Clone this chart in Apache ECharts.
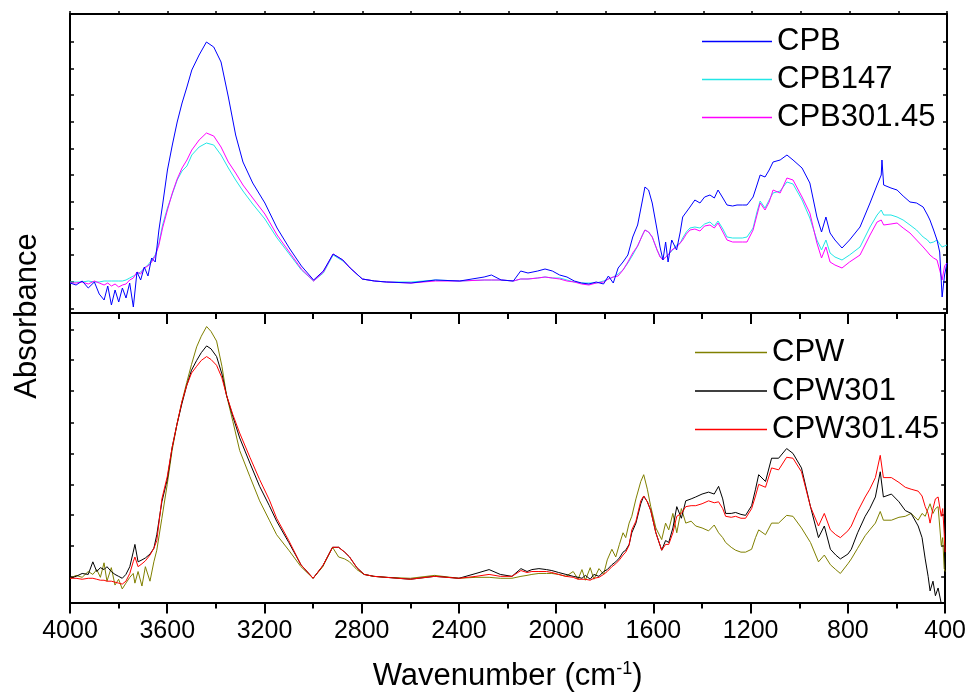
<!DOCTYPE html>
<html>
<head>
<meta charset="utf-8">
<script src="https://cdn.jsdelivr.net/npm/echarts@6/dist/echarts.min.js"></script>
<style>
html,body{margin:0;padding:0;background:#fff}
#chart{width:969px;height:693px}
</style>
</head>
<body>
<div id="chart"></div>
<script>
// wavenumbers (cm-1), top panel
const wTop = [4000,3975,3950,3925,3900,3880,3860,3845,3830,3815,
3800,3785,3770,3755,3740,3725,3710,3695,3680,3665,
3650,3635,3620,3600,3580,3560,3540,3520,3500,3470,
3440,3410,3380,3350,3320,3290,3250,3200,3150,3100,
3050,3000,2960,2920,2880,2850,2800,2750,2700,2600,
2500,2400,2300,2270,2230,2180,2150,2120,2080,2050,
2020,1990,1960,1930,1900,1870,1840,1810,1790,1770,
1750,1730,1710,1690,1670,1650,1640,1625,1610,1590,
1578,1566,1555,1545,1530,1510,1495,1485,1470,1455,
1435,1414,1395,1373,1355,1340,1320,1303,1280,1262,
1240,1221,1196,1180,1167,1147,1130,1114,1085,1057,
1032,995,963,934,915,897,880,860,831,800,
757,716,687,670,667,660,654,630,605,580,
552,525,498,480,470,455,441,430,420,410,
400]

// absorbance, arbitrary units (x100)
const CPB = [30,28,32,25,31,19,13,27,8,23,
11,25,15,30,6,41,33,46,37,55,
51,83,108,143,168,191,210,226,243,258,
271,266,251,216,178,151,130,110,85,65,
47,33,42,59,53,45,34,32,31,30,
33,32,36,38,33,32,42,40,42,44,
42,38,36,32,30,29,31,29,37,30,
45,51,58,76,88,113,126,123,110,83,
66,53,71,51,73,63,81,96,101,106,
113,110,116,118,115,123,115,108,107,108,
108,108,116,128,138,136,143,151,153,158,
153,145,130,96,81,96,80,73,65,73,
86,110,128,138,153,128,126,125,123,117,
111,110,106,98,93,83,73,61,16,38,
50]

const CPB147 = [31,31,31,32,31,31,32,32,32,32,
32,32,33,35,37,39,41,45,48,53,
58,70,88,105,119,133,142,147,158,166,
170,168,158,145,133,122,109,94,75,59,
43,32,40,58,52,45,34,32,31,31,
33,32,33,33,33,32,34,34,35,36,
35,35,33,31,30,30,30,32,34,36,
39,43,50,58,67,78,83,81,76,63,
57,53,56,58,62,68,70,75,81,85,
86,85,89,91,87,92,84,76,75,75,
75,76,85,101,112,105,113,120,122,131,
129,113,95,73,63,73,60,56,53,58,
66,86,98,103,103,98,96,98,96,93,
88,83,76,73,70,71,73,69,66,67,
68]

const CPB30145 = [30,30,31,29,32,30,28,30,27,29,
26,28,29,33,35,41,39,45,47,51,
57,68,85,103,120,134,145,153,163,173,
180,177,166,151,140,128,115,99,78,61,
44,32,41,59,53,45,34,32,31,30,
32,32,33,33,33,32,34,34,35,36,
35,34,32,31,29,28,30,31,34,36,
37,43,51,60,67,78,83,81,76,63,
56,53,56,58,63,66,70,73,79,83,
84,82,87,88,85,90,81,73,71,71,
71,71,83,98,110,103,111,123,120,135,
133,116,100,70,55,66,51,48,45,51,
58,78,91,93,95,88,86,89,90,85,
80,73,66,61,58,55,53,43,33,47,
50]

// bottom panel
const wBot = [4000,3975,3950,3925,3906,3890,3875,3860,3848,3830,
3815,3800,3785,3770,3754,3740,3733,3720,3704,3690,
3671,3655,3643,3622,3600,3580,3560,3540,3520,3500,
3479,3460,3438,3420,3397,3375,3356,3330,3302,3260,
3220,3180,3150,3100,3050,3000,2960,2920,2895,2870,
2850,2820,2790,2750,2700,2600,2500,2400,2330,2276,
2230,2182,2145,2120,2100,2071,2040,2018,1990,1960,
1930,1910,1894,1880,1860,1845,1824,1805,1790,1771,
1755,1740,1725,1714,1700,1689,1672,1652,1640,1625,
1611,1590,1566,1550,1537,1520,1504,1485,1467,1445,
1426,1400,1373,1350,1332,1315,1303,1280,1262,1240,
1221,1196,1180,1167,1139,1114,1085,1052,1026,991,
954,921,897,872,850,831,800,786,760,729,
710,687,667,654,621,590,564,540,511,495,
482,470,462,450,440,429,416,410,404,400]

const CPW = [25,28,26,32,29,34,26,41,22,36,
18,24,14,20,26,30,20,32,17,37,
22,42,54,87,122,157,184,207,227,246,
264,275,285,280,270,244,214,187,157,130,
105,85,70,54,37,25,37,57,47,45,
42,34,29,27,26,25,28,25,26,26,
25,25,27,28,29,30,30,30,29,27,
32,24,34,23,36,24,35,29,44,55,
47,60,72,67,82,89,107,125,132,117,
99,77,65,82,75,92,72,97,82,84,
79,77,74,80,72,67,62,57,54,52,
52,55,67,75,70,82,82,90,89,77,
62,42,49,39,34,30,40,45,56,69,
75,82,94,85,85,88,89,92,85,92,
89,97,102,92,97,99,59,67,35,32]

const CPW301 = [25,27,30,29,42,32,36,34,37,32,
29,27,25,29,37,52,60,42,44,46,
50,56,70,104,127,160,184,205,224,240,
250,258,265,262,254,236,214,192,170,144,
120,100,84,62,39,25,38,57,57,52,
47,36,29,27,26,24,27,25,30,34,
29,27,35,32,34,35,34,33,31,29,
27,26,25,28,24,29,27,32,34,39,
42,46,52,54,60,72,82,102,110,104,
95,72,54,64,62,77,99,87,105,107,
109,112,114,112,120,107,92,92,93,91,
90,100,117,132,125,149,149,159,154,139,
99,67,79,55,49,45,50,55,72,89,
97,109,135,109,112,104,95,92,79,67,
45,27,12,22,7,15,-1,-13,-18,-18]

const CPW30145 = [25,25,24,25,25,24,23,23,22,22,
21,20,19,22,30,42,47,37,40,43,
49,56,64,107,130,160,184,207,224,237,
244,250,254,251,245,232,214,194,175,150,
127,106,87,64,39,25,38,57,57,52,
47,36,29,27,26,24,27,25,27,29,
27,27,33,31,32,32,32,31,29,27,
26,24,24,24,23,25,26,29,32,37,
40,44,49,52,59,75,84,105,110,104,
95,72,54,60,60,72,89,92,99,100,
100,102,105,103,104,97,89,88,89,87,
87,97,110,122,119,139,137,150,149,135,
99,79,92,75,70,67,74,79,94,109,
117,129,152,129,129,124,119,117,115,110,
99,92,82,97,107,109,89,97,72,52]

// y tick positions (no labels on the y axes)
const yTicksTop = [4.7,31.3,58,84.7,111.3,138,164.7,191.3,218,244.7,271.3]
const yTicksBot = [27,58.7,90.3,122,153.7,186,218.7,250.3,282]

const FONT = 'Liberation Sans'

function pairs(xs, ys){
    let out = []
    for(let i=0;i<xs.length;i++)
        out.push([xs[i], ys[i]])
    return out
}

function lineSeries(name, xs, ys, color, axis){
    return {
        name: name,
        type: 'line',
        xAxisIndex: axis,
        yAxisIndex: axis,
        data: pairs(xs, ys),
        showSymbol: false,
        symbol: 'none',
        color: color,
        lineStyle: { width: 1, color: color },
        animation: false
    }
}

function yAx(grid, pos, ticks){
    return {
        type: 'value', gridIndex: grid, position: pos,
        min: 0, max: 299,
        axisLine: { show: true, lineStyle: { color: '#000', width: 2 } },
        axisTick: { show: true, inside: true, length: 4, customValues: ticks, lineStyle: { color: '#000', width: 1.5 } },
        axisLabel: { show: false },
        splitLine: { show: false }
    }
}

let xBase = {
    type: 'value', inverse: true, min: 400, max: 4000,
    splitLine: { show: false },
    axisLine: { show: true, onZero: false, lineStyle: { color: '#000', width: 2 } }
}

let option = {
    backgroundColor: '#fff',
    animation: false,
    grid: [
        { left: 70, right: 22, top: 14, height: 299 },
        { left: 70, right: 22, top: 313, height: 299 }
    ],
    xAxis: [
        Object.assign({}, xBase, {
            gridIndex: 0, position: 'top', interval: 200,
            axisTick: { show: true, inside: false, length: 3, lineStyle: { color: '#000', width: 1.5 } },
            axisLabel: { show: false }
        }),
        Object.assign({}, xBase, {
            gridIndex: 0, position: 'bottom', interval: 400,
            axisTick: { show: false }, axisLabel: { show: false }
        }),
        Object.assign({}, xBase, {
            gridIndex: 1, position: 'bottom', interval: 400,
            axisTick: { show: true, inside: false, length: 11, lineStyle: { color: '#000', width: 2 } },
            minorTick: { show: true, splitNumber: 2, length: 6, lineStyle: { color: '#000', width: 2 } },
            axisLabel: { show: true, margin: 16, color: '#000', fontFamily: FONT, fontSize: 25, formatter: v => String(v) },
            name: 'Wavenumber (cm{sup|-1})',
            nameLocation: 'middle',
            nameGap: 58,
            nameTextStyle: {
                color: '#000', fontFamily: FONT, fontSize: 31,
                rich: { sup: { fontSize: 18, fontFamily: FONT, color: '#000', verticalAlign: 'bottom', padding: [0, 0, 14, 0] } }
            }
        }),
        Object.assign({}, xBase, {
            gridIndex: 1, position: 'top', interval: 400,
            axisTick: { show: true, inside: true, length: 11, lineStyle: { color: '#000', width: 2 } },
            minorTick: { show: true, splitNumber: 2, length: 6, lineStyle: { color: '#000', width: 2 } },
            axisLabel: { show: false }
        })
    ],
    yAxis: [
        yAx(0, 'left', yTicksTop),
        yAx(0, 'right', yTicksTop),
        yAx(1, 'left', yTicksBot),
        yAx(1, 'right', yTicksBot),
    ],
    legend: [
        {
            data: ['CPB', 'CPB147', 'CPB301.45'],
            orient: 'vertical', left: 697, top: 21,
            icon: 'rect', itemWidth: 70, itemHeight: 1.5, itemGap: 7,
            textStyle: { fontFamily: FONT, fontSize: 31, lineHeight: 31, color: '#000' }
        },
        {
            data: ['CPW', 'CPW301', 'CPW301.45'],
            orient: 'vertical', left: 690, top: 332,
            icon: 'rect', itemWidth: 72, itemHeight: 1.5, itemGap: 7.5,
            textStyle: { fontFamily: FONT, fontSize: 31, lineHeight: 31, color: '#000' }
        }
    ],
    graphic: [
        {
            type: 'text', x: 27, y: 316, rotation: Math.PI / 2,
            style: { text: 'Absorbance', fontFamily: FONT, fontSize: 31, fill: '#000', align: 'center', verticalAlign: 'middle' }
        }
    ],
    series: [
        lineSeries('CPB147', wTop, CPB147, '#22e6e6', 0),
        lineSeries('CPB301.45', wTop, CPB30145, '#ff00ff', 0),
        lineSeries('CPB', wTop, CPB, '#0000ff', 0),
        lineSeries('CPW', wBot, CPW, '#808000', 2),
        lineSeries('CPW301', wBot, CPW301, '#000000', 2),
        lineSeries('CPW301.45', wBot, CPW30145, '#ff0000', 2)
    ]
}

let chartDom = echarts.init(document.querySelector('#chart'))
chartDom.setOption(option)
</script>
</body>
</html>
